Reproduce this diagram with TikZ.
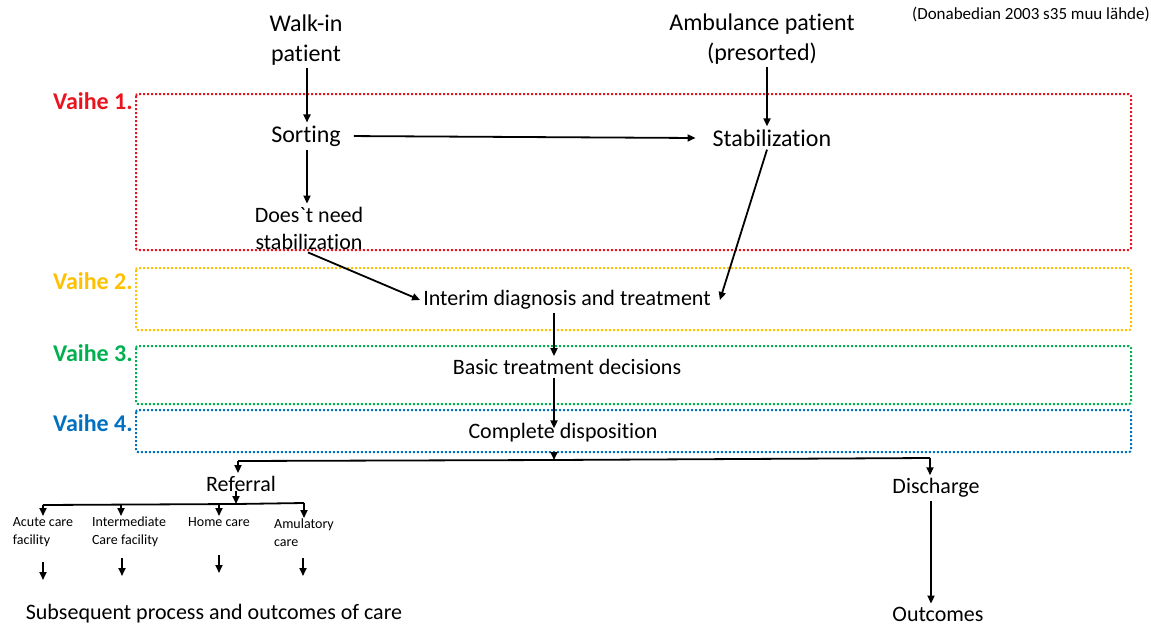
\documentclass[tikz,border=0pt]{standalone}
\usepackage{fontspec}
\setmainfont{Carlito}[Ligatures={TeXOff,CommonOff}]
\usetikzlibrary{arrows.meta,positioning}
\definecolor{phaseone}{RGB}{235,20,30}
\definecolor{phasetwo}{RGB}{255,192,0}
\definecolor{phasethree}{RGB}{0,176,80}
\definecolor{phasefour}{RGB}{0,112,192}
\begin{document}
\begin{tikzpicture}[x=1pt, y=-1pt,
  big/.style = {font=\fontsize{24}{30}\selectfont, align=center, inner sep=3pt},
  mid/.style = {font=\fontsize{22}{27}\selectfont, align=center, inner sep=3pt},
  small/.style = {font=\fontsize{14}{18}\selectfont, align=left, anchor=north, inner sep=1pt},
  phase/.style = {font=\bfseries\fontsize{24}{28}\selectfont, anchor=east, inner sep=1pt},
  box/.style = {line width=2pt, dash pattern=on 2pt off 2pt, rounded corners=2pt},
  arr/.style = {-{Triangle[length=8pt,width=7pt]}, line width=1.8pt}]
  \useasboundingbox (0,0) rectangle (1151,626);
  % phase boxes
  \draw[box, phaseone] (136,94) rectangle (1131,250);
  \draw[box, phasetwo] (136,268) rectangle (1131,330);
  \draw[box, phasethree] (136,346) rectangle (1131,404);
  \draw[box, phasefour] (136,410) rectangle (1131,452);
  \node[phase, phaseone] (v1) at (134,101) {Vaihe 1.};
  \node[phase, phasetwo] (v2) at (134,281) {Vaihe 2.};
  \node[phase, phasethree] (v3) at (134,353) {Vaihe 3.};
  \node[phase, phasefour] (v4) at (134,423) {Vaihe 4.};
  \node[small, anchor=north east, font=\fontsize{17}{20}\selectfont] (source) at (1151,6) {(Donabedian 2003 s35 muu lähde)};
  % main flow
  \node[big] (walkin) at (306,40) {Walk-in\\patient};
  \node[big] (ambulance) at (762,39) {Ambulance patient\\(presorted)};
  \node[big] (sorting) at (306,136) {Sorting};
  \node[big] (stab) at (772,138) {Stabilization};
  \node[mid] (noneed) at (309,228) {Does\symbol{96}t need\\stabilization};
  \node[mid] (interim) at (567,300) {Interim diagnosis and treatment};
  \node[mid] (basic) at (567,367) {Basic treatment decisions};
  \node[mid] (disp) at (563,433) {Complete disposition};
  \coordinate (fork) at (554,460);
  \node[mid] (referral) at (241,484) {Referral};
  \node[mid] (discharge) at (936,488) {Discharge};
  \node[mid] (outcomes) at (938,614) {Outcomes};
  \coordinate (rfork) at (236,504);
  \node[small] (acute) at (43,516) {Acute care\\facility};
  \node[small] (inter) at (129,516) {Intermediate\\Care facility};
  \node[small] (home) at (219,516) {Home care};
  \node[small] (amul) at (304,518) {Amulatory\\care};
  \node[mid] (subseq) at (214,614) {Subsequent process and outcomes of care};
  \draw[arr] ([xshift=1]walkin.south) -- ([xshift=1]sorting.north);
  \draw[arr] ([xshift=5]ambulance.south) -- ([xshift=-5]stab.north);
  \draw[arr, shorten <=10pt] (sorting.east) -- ([xshift=-14]stab.west);
  \draw[arr] ([xshift=1]sorting.south) -- ([xshift=-2]noneed.north);
  \draw[arr] ([xshift=-1]noneed.south) -- (interim.west);
  \draw[arr] ([xshift=-5]stab.south) -- ([xshift=6]interim.east);
  \draw[arr] ([xshift=-13]interim.south) -- ([xshift=-13]basic.north);
  \draw[arr] ([xshift=-13]basic.south) -- ([xshift=-9,yshift=-8]disp.north);
  \draw[arr] ([xshift=-9,yshift=-6]disp.south) -- (fork);
  \draw[line width=1.8pt] (238,461) -- (fork) -- (930,458);
  \draw[arr] (238,461) -- ([xshift=-3]referral.north);
  \draw[arr] (930,458) -- ([xshift=-6]discharge.north);
  \draw[arr] ([xshift=-5]discharge.south) -- ([xshift=-7]outcomes.north);
  \draw[arr] ([xshift=-5,yshift=4]referral.south) -- (rfork);
  \draw[line width=1.8pt] (43,505) -- (rfork) -- (304,503);
  \draw[arr] (43,505) -- (acute.north);
  \draw[arr] (121,505) -- ([xshift=-8]inter.north);
  \draw[arr] (219,504) -- (home.north);
  \draw[arr] (304,503) -- (amul.north);
  \foreach \n/\x/\y in {acute/43/562, inter/122/558, home/219/555, amul/303/558}
    \draw[arr] (\x,\y) -- (\x,\y+18);
\end{tikzpicture}
\end{document}
